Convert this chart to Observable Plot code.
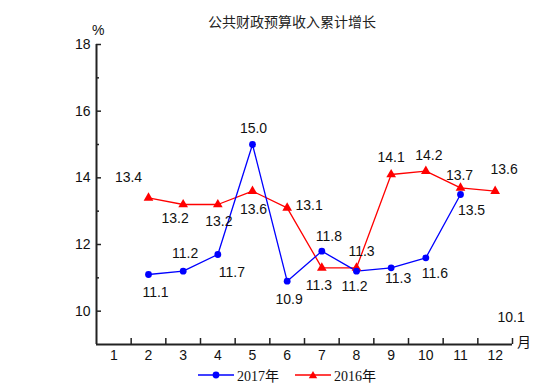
<!DOCTYPE html>
<html><head><meta charset="utf-8">
<script src="https://cdn.jsdelivr.net/npm/d3@7"></script>
<script src="https://cdn.jsdelivr.net/npm/@observablehq/plot@0.6"></script>
<style>
body{margin:0;background:#fff;}
#wrap{position:relative;width:552px;height:390px;overflow:hidden;background:#fff;}
#wrap svg.plot{position:absolute;left:0;top:0;}
.abs{position:absolute;white-space:nowrap;line-height:1;}
#title{left:0;width:584px;top:11px;text-align:center;font:14px "Liberation Serif","Noto Sans CJK SC",serif;color:#222;}
#pct{left:92px;top:22px;font:14px "Liberation Sans",Arial,sans-serif;color:#111;}
#yue{left:517px;top:331px;font:14px "Noto Sans CJK SC",serif;color:#111;}
#legend{left:198px;top:365px;font:14px "Liberation Serif","Noto Sans CJK SC",serif;color:#111;display:flex;align-items:center;}
#legend span.item{display:flex;align-items:center;margin-right:16px;}
</style></head><body><div id="wrap"></div>
<script>
// ---- data ----
const title = "公共财政预算收入累计增长";
const monthTicks = [1,2,3,4,5,6,7,8,9,10,11,12];
const yTicks = [10,12,14,16,18];
const yMinorTicks = [11,13,15,17];
const months2017 = [2,3,4,5,6,7,8,9,10,11];
const values2017 = [11.1,11.2,11.7,15.0,10.9,11.8,11.2,11.3,11.6,13.5];
const months2016 = [2,3,4,5,6,7,8,9,10,11,12];
const values2016 = [13.4,13.2,13.2,13.6,13.1,11.3,11.3,14.1,14.2,13.7,13.6];
const extraLabelMonths2017 = [12];
const extraLabelValues2017 = [10.1];
const seriesNames = ["2017年","2016年"];

// ---- label nudges (pixels) ----
const nudge2017 = [[7,18],[2,-18],[14,18],[1,-16],[2,18],[7,-15],[-2,15],[7,11],[9,16],[11,16]];
const nudgeExtra2017 = [[16,10]];
const nudge2016 = [[-20,-20],[-8,14],[1,17],[1,18],[22,-2],[-3,18],[5,-16],[0,-17],[3,-16],[-1,-12],[9,-22]];

const s2017 = months2017.map((m,i)=>({m, v: values2017[i], dx: nudge2017[i][0], dy: nudge2017[i][1]}));
const s2016 = months2016.map((m,i)=>({m, v: values2016[i], dx: nudge2016[i][0], dy: nudge2016[i][1]}));
const extra = extraLabelMonths2017.map((m,i)=>({m, v: extraLabelValues2017[i], dx: nudgeExtra2017[i][0], dy: nudgeExtra2017[i][1]}));
const allLabels = [...s2017, ...extra, ...s2016];
const bounds = monthTicks.map(m=>m+0.5);

const W=552,H=390,mT=44,mB=46,mL=96,mR=40;
const innerH = H-mT-mB, innerW = W-mL-mR;
const BLUE="#0000ff", RED="#ff0000", AX="#222";

const chart = Plot.plot({
  width: W, height: H,
  marginTop: mT, marginBottom: mB, marginLeft: mL, marginRight: mR,
  x: {type:"linear", domain:[0.5,12.5], label: null},
  y: {domain:[9,18], label: null},
  style: {fontFamily:'"Liberation Sans", Arial, sans-serif', fontSize:"14px", color:"#111", background:"#fff"},
  marks: [
    Plot.ruleX(bounds, {x: d=>d, insetTop: innerH-6, stroke: AX, strokeWidth: 1.5}),
    Plot.ruleY(yTicks, {y: d=>d, insetRight: innerW-5, stroke: AX, strokeWidth: 1.5}),
    Plot.ruleY(yMinorTicks, {y: d=>d, insetRight: innerW-3, stroke: AX, strokeWidth: 1.5}),
    Plot.ruleY([9], {stroke: AX, strokeWidth: 2}),
    Plot.ruleX([0.5], {stroke: AX, strokeWidth: 2}),
    Plot.axisX(monthTicks, {tickSize: 0, tickPadding: 6, fontSize: 14, fill:"#111", label: null}),
    Plot.axisY(yTicks, {tickSize: 0, tickPadding: 6, fontSize: 14, fill:"#111", label: null}),
    Plot.line(s2016, {x:"m", y:"v", stroke: RED, strokeWidth: 1.3}),
    Plot.line(s2017, {x:"m", y:"v", stroke: BLUE, strokeWidth: 1.3}),
    Plot.dot(s2016, {x:"m", y:"v", symbol:"triangle", r:3.6, fill: RED, stroke:"none"}),
    Plot.dot(s2017, {x:"m", y:"v", symbol:"circle", r:3.4, fill: BLUE, stroke:"none"}),
    ...allLabels.map(d => Plot.text([d], {x:"m", y:"v", text: d=>d.v.toFixed(1), dx: d.dx, dy: d.dy, fontSize: 14, fill:"#111"}))
  ]
});
chart.classList.add("plot");
const wrap = document.getElementById("wrap");
wrap.appendChild(chart);

function div(id, html){const e=document.createElement("div");e.id=id;e.className="abs";e.innerHTML=html;wrap.appendChild(e);return e;}
div("title", title);
div("pct", "%");
div("yue", "月");
const legItem = (color, shape, name) => `<span class="item"><svg width="36" height="10" style="margin-right:3px"><line x1="0" y1="5" x2="36" y2="5" stroke="${color}" stroke-width="1.3"/>${shape==="circle"?`<circle cx="18" cy="5" r="3.4" fill="${color}"/>`:`<path d="M18,1 L22.2,8.2 L13.8,8.2 Z" fill="${color}"/>`}</svg>${name}</span>`;
div("legend", legItem(BLUE,"circle",seriesNames[0]) + legItem(RED,"triangle",seriesNames[1]));
</script></body></html>
